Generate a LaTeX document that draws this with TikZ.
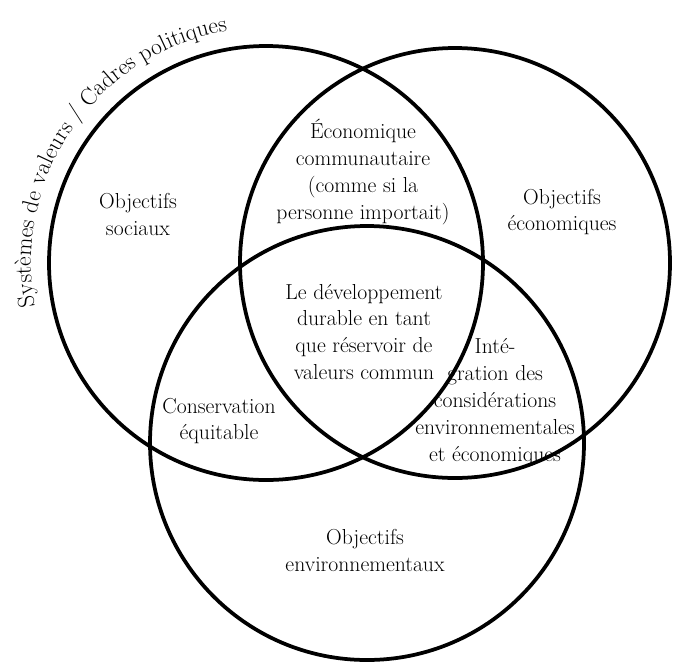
\documentclass[tikz,border=0pt]{standalone}
\usepackage{tikz}
\usetikzlibrary{decorations.text}
\begin{document}
\begin{tikzpicture}[x=0.03cm,y=0.03cm,
  cercle/.style={line width=3.2pt},
  etiq/.style={align=center,font=\fontsize{18.5}{23}\selectfont,inner sep=0pt}]
\useasboundingbox (0,0) rectangle (679,-662);
% centres des trois cercles
\coordinate (cSoc) at (266,-263);
\coordinate (cEco) at (455,-263);
\coordinate (cEnv) at (367,-443);
\draw [cercle] (cSoc) circle [radius=217];
\draw [cercle] (cEco) circle [radius=215];
\draw [cercle] (cEnv) circle [radius=217];
% les zones
\node [etiq] (soc) at (138,-214) {Objectifs\\sociaux};
\node [etiq] (eco) at (562,-212) {Objectifs\\économiques};
\node [etiq] (env) at (365,-550) {Objectifs\\environnementaux};
\node [etiq] (commu) at (363,-172) {Économique\\communautaire\\(comme si la\\personne importait)};
\node [etiq] (centre) at (364,-332) {Le développement\\durable en tant\\que réservoir de\\valeurs commun};
\node [etiq] (conserv) at (219,-421) {Conservation\\équitable};
\node [etiq] (integ) at (495,-402) {Inté-\\gration des\\considérations\\environnementales\\et économiques};
% texte courbe
\path [decorate,decoration={text along path,text align=center,
  text={|\fontsize{20}{24}\selectfont|Systèmes de valeurs / Cadres politiques}}]
  (cSoc) ++(191:235) arc [start angle=191,end angle=99,radius=235];
\end{tikzpicture}
\end{document}
